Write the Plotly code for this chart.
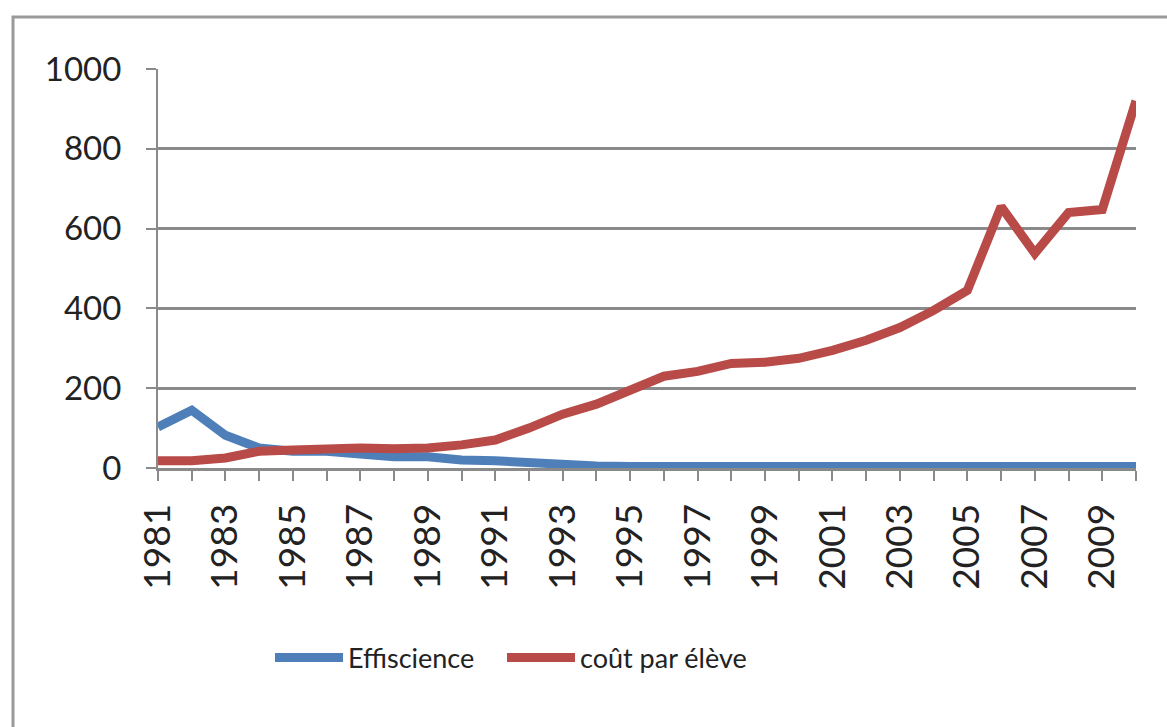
import plotly.graph_objects as go

years = list(range(1981, 2011))
effiscience = [103, 145, 82, 50, 42, 42, 35, 28, 28, 20,
               18, 12, 10, 5, 4, 4, 4, 6, 4, 5,
               8, 8, 7, 4, 8, 3, 7, 7, 6, 4]
cout_par_eleve = [18, 18, 25, 42, 45, 48, 50, 48, 50, 58,
                  70, 100, 135, 160, 192, 230, 242, 262, 265, 275,
                  295, 320, 352, 395, 445, 655, 538, 640, 648, 920]
y_ticks = [0, 200, 400, 600, 800, 1000]
series_names = ["Effiscience", "coût par élève"]

W, H = 1167, 727
L, R, T, B = 158, 31, 69, 259
pw, ph = W - L - R, H - T - B

FONT = "Lato"

fig = go.Figure()
fig.add_trace(go.Scatter(x=years, y=effiscience, mode="lines", name=series_names[0],
                         line=dict(color="#4F7FB8", width=9), legend="legend"))
fig.add_trace(go.Scatter(x=years, y=cout_par_eleve, mode="lines", name=series_names[1],
                         line=dict(color="#B84A48", width=9), legend="legend2"))

# outer chart border (left and top visible)
fig.add_shape(type="rect", xref="paper", yref="paper",
              x0=(13 - L) / pw, x1=(1200 - L) / pw,
              y0=-1.0, y1=1 + (T - 17) / ph,
              line=dict(color="#9a9a9a", width=3), layer="below")

leg_common = dict(orientation="h", xanchor="left",
                  y=(468 - 658) / ph, yanchor="middle",
                  font=dict(size=27, family=FONT, color="#222222"),
                  itemwidth=68, bgcolor="rgba(0,0,0,0)")

fig.update_layout(
    width=W, height=H,
    margin=dict(l=L, r=R, t=T, b=B, autoexpand=False),
    paper_bgcolor="white", plot_bgcolor="white",
    font=dict(family=FONT, color="#222222"),
    showlegend=True,
    legend=dict(x=(270 - L) / pw, **leg_common),
    legend2=dict(x=(502 - L) / pw, **leg_common),
    xaxis=dict(range=[1981, 2010], tickmode="linear", tick0=1981, dtick=2,
               tickangle=-90, ticks="outside", ticklen=10, tickwidth=2,
               tickcolor="#8a8a8a",
               minor=dict(dtick=1, tick0=1981, ticks="outside", ticklen=10,
                          tickwidth=2, tickcolor="#8a8a8a", showgrid=False),
               showgrid=False, showline=True, linecolor="#8a8a8a", linewidth=3,
               zeroline=False, tickfont=dict(size=37, family=FONT, color="#222222"),
               ticklabelstandoff=8),
    yaxis=dict(range=[0, 1000], tickvals=y_ticks, ticks="outside", ticklen=10,
               tickwidth=2, tickcolor="#8a8a8a",
               showgrid=True, gridcolor="#8a8a8a", gridwidth=3,
               showline=True, linecolor="#8a8a8a", linewidth=2,
               zeroline=False, tickfont=dict(size=33, family=FONT, color="#222222"),
               ticklabelstandoff=18),
)

fig.write_html("out.html", config={"displayModeBar": False},
               post_script="document.body.style.margin='0';")
